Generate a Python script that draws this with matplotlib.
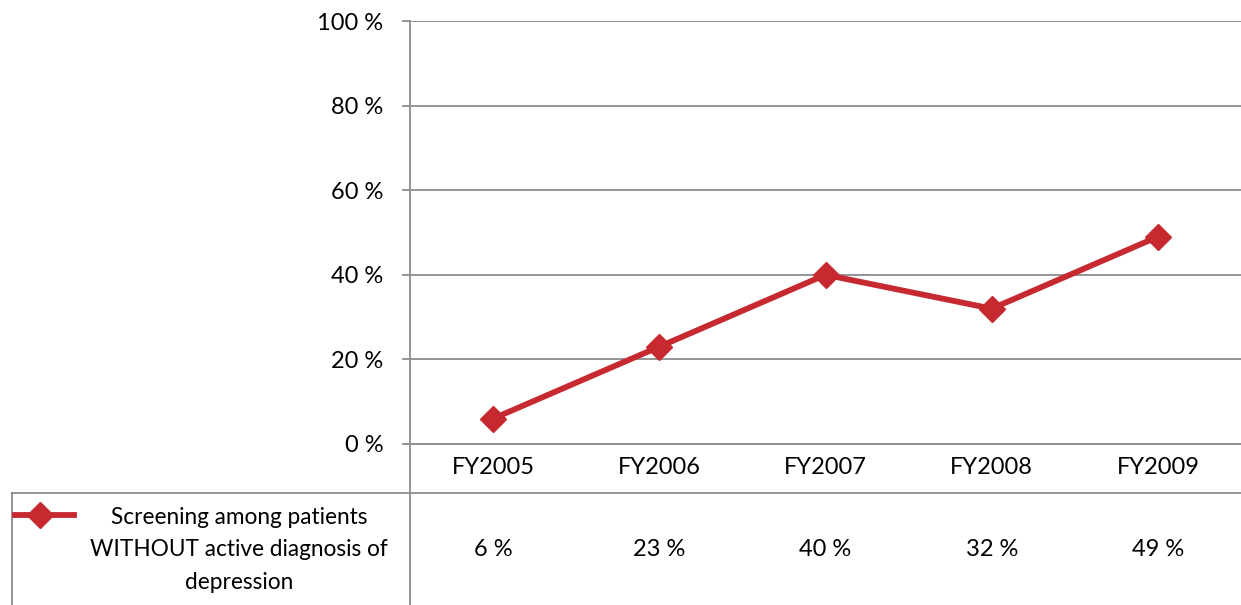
import matplotlib
matplotlib.use("Agg")
import matplotlib.pyplot as plt
from matplotlib.lines import Line2D

# data
years = ["FY2005", "FY2006", "FY2007", "FY2008", "FY2009"]
screening_pct = [6, 23, 40, 32, 49]
series_label = "Screening among patients\nWITHOUT active diagnosis of\ndepression"
y_ticks = [0, 20, 40, 60, 80, 100]

RED = "#C62A30"
GRID = "#8C8C8C"
W, H = 1241, 605
FS = 17

plt.rcParams["font.family"] = ["Lato", "DejaVu Sans"]

fig = plt.figure(figsize=(W / 100, H / 100), dpi=100)
# plot area in pixel terms: left 410, right 1241, top 21, bottom 444
ax = fig.add_axes([410 / W, (H - 444) / H, 831 / W, 423 / H])

x = list(range(len(years)))
ax.plot(x, screening_pct, color=RED, lw=4.2, marker="D", ms=13,
        markerfacecolor=RED, markeredgecolor=RED, solid_joinstyle="miter")

ax.set_xlim(-0.5, len(years) - 0.5)
ax.set_ylim(0, 100)
ax.set_yticks(y_ticks)
ax.set_yticklabels([f"{v} %" for v in y_ticks], fontsize=FS)
ax.set_xticks([])
ax.yaxis.grid(True, color=GRID, lw=1.3)
ax.set_axisbelow(True)
ax.tick_params(axis="y", length=6, width=1.3, color=GRID, pad=13)
for side in ["top", "right", "bottom"]:
    ax.spines[side].set_visible(False)
ax.spines["left"].set_color(GRID)
ax.spines["left"].set_linewidth(1.3)


def fx(px):
    return px / W


def fy(py):
    return 1 - py / H


# data table lines
fig.add_artist(Line2D([fx(410), fx(410)], [fy(444), fy(605)], color=GRID, lw=1.3))
fig.add_artist(Line2D([fx(12), fx(W)], [fy(493), fy(493)], color=GRID, lw=1.3))
fig.add_artist(Line2D([fx(12), fx(12)], [fy(493), fy(605)], color=GRID, lw=1.3))
fig.add_artist(Line2D([fx(410), fx(W)], [fy(444), fy(444)], color=GRID, lw=1.3))

# header row and values row, placed through the axes x scale
trans = ax.get_xaxis_transform()
for i, (yr, v) in enumerate(zip(years, screening_pct)):
    ax.text(i, -(468 - 444) / 423, yr, transform=trans, ha="center", va="center",
            fontsize=FS, clip_on=False)
    ax.text(i, -(550 - 444) / 423, f"{v} %", transform=trans, ha="center",
            va="center", fontsize=FS, clip_on=False)

# legend key in the table
fig.add_artist(Line2D([fx(15), fx(74)], [fy(515), fy(515)], color=RED, lw=4.2))
fig.add_artist(Line2D([fx(40)], [fy(515)], color=RED, marker="D", ms=13))
fig.text(fx(239), fy(550), series_label, ha="center", va="center",
         fontsize=16.3, linespacing=1.68)

fig.savefig("out.png", dpi=100)
